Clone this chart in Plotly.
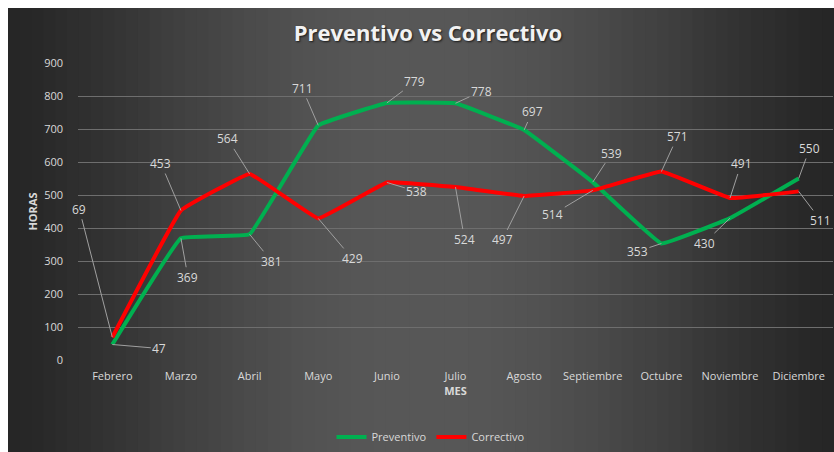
import math
import plotly.graph_objects as go

meses = ['Febrero', 'Marzo', 'Abril', 'Mayo', 'Junio', 'Julio', 'Agosto',
         'Septiembre', 'Octubre', 'Noviembre', 'Diciembre']
preventivo = [47, 369, 381, 711, 779, 778, 697, 539, 353, 430, 550]
correctivo = [69, 453, 564, 429, 538, 524, 497, 514, 571, 491, 511]

# label offsets (px) for the data labels
prev_off = [(47, 4), (7, 39), (22, 27), (-16, -37), (28, -21), (26, -12),
            (8, -18), (19, -29), (-24, 8), (-26, 25), (11, -30)]
corr_off = [(-33, -128), (-20, -47), (-22, -35), (34, 40), (30, 9), (9, 52),
            (-22, 44), (-40, 24), (16, -35), (11, -34), (22, 29)]

# page body keeps an 8px offset top/left, so the figure is 8px smaller
W, H = 826, 444
L, R, T, B = 70, 1, 55, 92
PW, PH = W - L - R, H - T - B
FONT = 'Open Sans'


def px_x(px):
    return (px - L) / PW


def px_y(py):
    return (H - B - py) / PH


fig = go.Figure()

fig.add_trace(go.Scatter(
    x=meses, y=preventivo, name='Preventivo', mode='lines',
    line=dict(color='#00b050', width=4, shape='spline', smoothing=0.2)
))
fig.add_trace(go.Scatter(
    x=meses, y=correctivo, name='Correctivo', mode='lines',
    line=dict(color='#ff0000', width=4, shape='spline', smoothing=0.2)
))

# data labels with leader lines
for vals, offs in [(preventivo, prev_off), (correctivo, corr_off)]:
    for m, v, (dx, dy) in zip(meses, vals, offs):
        fig.add_annotation(
            x=m, y=v, text=str(v), showarrow=True, arrowhead=0,
            arrowwidth=1, arrowcolor='#a0a0a0', ax=dx, ay=dy,
            font=dict(size=12, color='#d9d9d9', family=FONT)
        )

# dark gradient background (lighter in the middle) from thin strips
shapes = []
n = 70
for i in range(n):
    x0 = W * i / n
    x1 = W * (i + 1) / n
    t = (x0 + x1) / 2 / W
    k = math.sin(math.pi * t) ** 1.3
    c = int(38 + (88 - 38) * k)
    shapes.append(dict(
        type='rect', xref='paper', yref='paper', layer='below',
        x0=px_x(x0), x1=px_x(x1) + 0.002,
        y0=px_y(H), y1=px_y(0),
        fillcolor=f'rgb({c},{c},{c})', line=dict(width=0)
    ))

fig.update_layout(
    width=W, height=H,
    margin=dict(l=L, r=R, t=T, b=B),
    paper_bgcolor='#3a3a3a',
    plot_bgcolor='rgba(0,0,0,0)',
    shapes=shapes,
    font=dict(family=FONT, color='#d9d9d9', size=11),
    title=dict(
        text='<b>Preventivo vs Correctivo</b>',
        x=px_x(420), xref='paper', xanchor='center',
        y=1 - 25 / H, yanchor='middle',
        font=dict(size=22, color='#f2f2f2', family=FONT,
                  shadow='1px 1px 2px #1a1a1a')
    ),
    showlegend=True,
    legend=dict(
        orientation='h', x=px_x(423), xanchor='center',
        y=px_y(429), yanchor='middle',
        font=dict(size=11, color='#d9d9d9'),
        bgcolor='rgba(0,0,0,0)', itemwidth=30, tracegroupgap=0
    ),
)

fig.update_xaxes(
    range=[-0.5, 10.5], showgrid=False, zeroline=False,
    showline=False, ticks='', tickfont=dict(size=11, color='#d9d9d9'),
    ticklabelstandoff=8,
    title=dict(text='<b>MES</b>', font=dict(size=11, color='#d9d9d9'), standoff=4)
)
fig.update_yaxes(
    range=[0, 900], dtick=100, showgrid=True, gridcolor='#6e6e6e',
    gridwidth=1, zeroline=False, showline=False, ticks='',
    tickfont=dict(size=11, color='#d9d9d9'), ticklabelstandoff=14,
    title=dict(text='<b>HORAS</b>', font=dict(size=11, color='#d9d9d9'), standoff=4)
)

# keep the 8px top/left page margin but drop the right/bottom one (no scrollbars)
fig.write_html('out.html', post_script="document.body.style.margin='8px 0 0 8px';")
